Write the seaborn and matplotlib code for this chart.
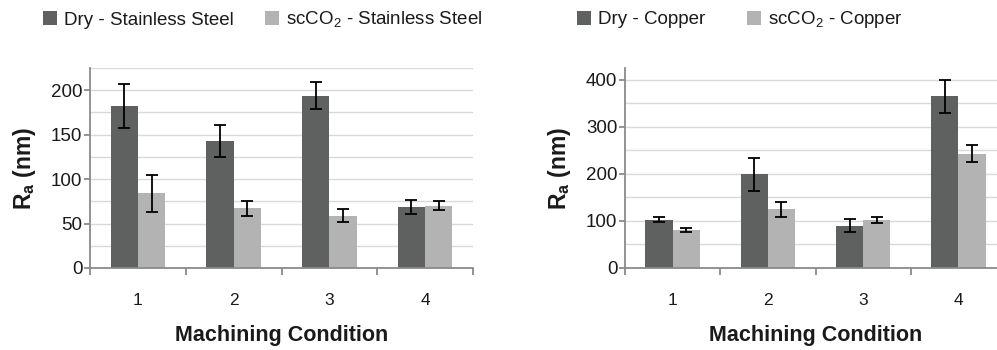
import matplotlib
matplotlib.use("Agg")
import matplotlib.pyplot as plt
from matplotlib.ticker import MultipleLocator, FixedLocator
import numpy as np
import pandas as pd
import seaborn as sns

# Machining conditions and mean surface roughness (nm) with standard deviations
conditions = ["1", "2", "3", "4"]

ss_dry = [182, 143, 194, 69]
ss_dry_err = [25, 18, 15, 8]
ss_co2 = [84, 67, 59, 70]
ss_co2_err = [21, 8, 7, 5]

cu_dry = [103, 199, 90, 365]
cu_dry_err = [6, 35, 14, 35]
cu_co2 = [80, 125, 102, 243]
cu_co2_err = [4, 16, 7, 18]

ss_labels = ["Dry - Stainless Steel", r"scCO$_\mathregular{2}$ - Stainless Steel"]
cu_labels = ["Dry - Copper", r"scCO$_\mathregular{2}$ - Copper"]

DARK = "#5f6160"
LIGHT = "#b3b3b3"
GRID = "#d9d9d9"
AXIS = "#8a8a8a"

sns.set_theme(style="white")
plt.rcParams["font.family"] = ["Liberation Sans", "DejaVu Sans"]
plt.rcParams["text.color"] = "#1a1a1a"
plt.rcParams["axes.labelcolor"] = "#1a1a1a"
plt.rcParams["xtick.color"] = "#1a1a1a"
plt.rcParams["ytick.color"] = "#1a1a1a"

fig = plt.figure(figsize=(9.97, 3.5), dpi=100)
ax_l = fig.add_axes([90 / 997, 82 / 350, 383 / 997, 200 / 350])
ax_r = fig.add_axes([625 / 997, 82 / 350, 381 / 997, 200 / 350])


def draw_panel(ax, dry, dry_err, co2, co2_err, labels, ymax, major, minor):
    df = pd.DataFrame({
        "Condition": conditions * 2,
        "Ra": list(dry) + list(co2),
        "Series": [labels[0]] * len(conditions) + [labels[1]] * len(conditions),
    })
    sns.barplot(data=df, x="Condition", y="Ra", hue="Series", hue_order=labels,
                palette=[DARK, LIGHT], width=0.57, errorbar=None, ax=ax,
                saturation=1, linewidth=0)
    errs = [dry_err, co2_err]
    for cont, err in zip(ax.containers, errs):
        xs = [p.get_x() + p.get_width() / 2 for p in cont.patches]
        hs = [p.get_height() for p in cont.patches]
        ax.errorbar(xs, hs, yerr=err, fmt="none", ecolor="black",
                    elinewidth=1.3, capsize=4.2, capthick=1.3, zorder=4)

    handles, lbls = ax.get_legend_handles_labels()
    ax.get_legend().remove()

    ax.set_xlim(-0.5, 3.5)
    ax.set_ylim(0, ymax)
    ax.yaxis.set_major_locator(MultipleLocator(major))
    ax.yaxis.set_minor_locator(MultipleLocator(minor))
    ax.xaxis.set_minor_locator(FixedLocator(np.arange(-0.5, 4.0, 1.0)))
    ax.set_axisbelow(True)
    ax.grid(False)
    ax.grid(True, axis="y", which="both", color=GRID, linewidth=1.0)

    for side in ("top", "right"):
        ax.spines[side].set_visible(False)
    for side in ("left", "bottom"):
        ax.spines[side].set_color(AXIS)
        ax.spines[side].set_linewidth(1.3)

    ax.tick_params(axis="x", which="major", length=0, pad=18, labelsize=12.5)
    ax.tick_params(axis="x", which="minor", length=5, width=1.3, color=AXIS,
                   direction="out", bottom=True)
    ax.tick_params(axis="y", which="major", length=4, width=1.3, color=AXIS,
                   direction="out", left=True, pad=1.5, labelsize=13.5)
    ax.tick_params(axis="y", which="minor", length=0)

    ax.set_xlabel("Machining Condition", fontsize=15.5, fontweight="bold",
                  labelpad=12)
    ax.set_ylabel(r"R$_\mathregular{a}$ (nm)", fontsize=16.5, fontweight="bold",
                  labelpad=9)
    return handles, lbls


h_l, l_l = draw_panel(ax_l, ss_dry, ss_dry_err, ss_co2, ss_co2_err,
                      ss_labels, 225, 50, 25)
h_r, l_r = draw_panel(ax_r, cu_dry, cu_dry_err, cu_co2, cu_co2_err,
                      cu_labels, 425, 100, 50)

for handles, lbls, x0, gap in ((h_l, l_l, 43 / 997, 1.7), (h_r, l_r, 577 / 997, 2.25)):
    fig.legend(handles, lbls, loc="center left", bbox_to_anchor=(x0, 1 - 20 / 350),
               bbox_transform=fig.transFigure, ncol=2, frameon=False,
               fontsize=13.5, handlelength=0.75, handleheight=0.75,
               handletextpad=0.35, columnspacing=gap, borderpad=0,
               borderaxespad=0)

fig.savefig("out.png", dpi=100)
